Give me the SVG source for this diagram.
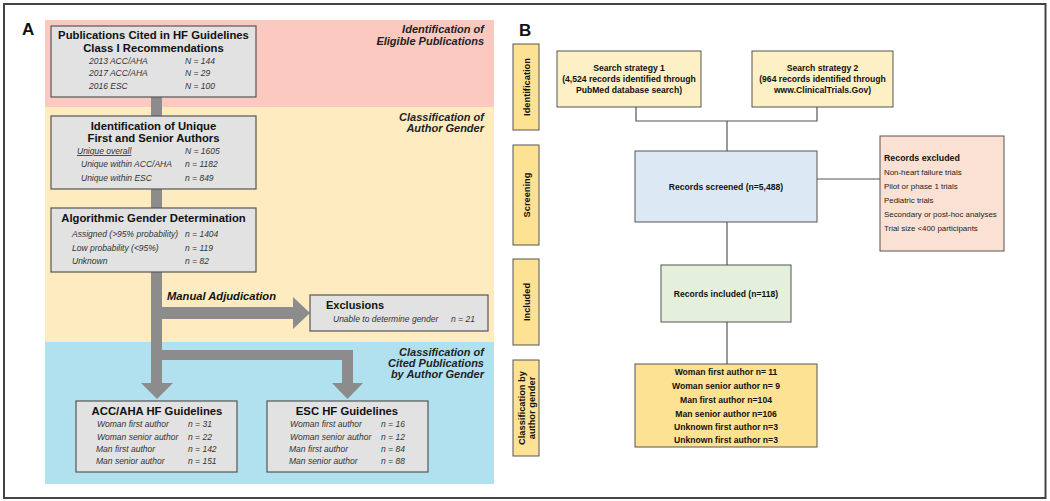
<svg xmlns="http://www.w3.org/2000/svg" width="1050" height="501" viewBox="0 0 1050 501">
<style>
text{font-family:"Liberation Sans",Arial,sans-serif;fill:#111}
.gbox{fill:#e2e2e2;stroke:#555;stroke-width:1.2}
.t{font-weight:bold;font-size:11.3px;text-anchor:middle}
.r{font-style:italic;font-size:8.5px;fill:#333}
.band{font-weight:bold;font-style:italic;font-size:11px;text-anchor:end;fill:#222}
.bar{fill:#8c8c8c}
.side{fill:#fde293;stroke:#555;stroke-width:1}
.sl{font-weight:bold;font-size:9.3px;text-anchor:middle}
.bb{stroke:#555;stroke-width:1}
.bt{font-weight:bold;font-size:8.6px;text-anchor:middle}
.ln{fill:none;stroke:#555;stroke-width:1.2}
.ex{font-size:7.9px;fill:#222}
</style>
<rect x="4" y="4" width="1041.5" height="494" fill="#fff" stroke="#444" stroke-width="2"/>
<!-- Panel A bands -->
<rect x="45" y="20" width="449" height="87" fill="#fcc9c0"/>
<rect x="45" y="107" width="449" height="235" fill="#feecc0"/>
<rect x="45" y="342" width="449" height="142" fill="#b1e1ef"/>
<text x="22" y="35" style="font-weight:bold;font-size:17px">A</text>
<text x="519" y="36" style="font-weight:bold;font-size:17px">B</text>
<text class="band" x="484" y="33">Identification of</text>
<text class="band" x="484" y="45">Eligible Publications</text>
<text class="band" x="484" y="121">Classification of</text>
<text class="band" x="484" y="132">Author Gender</text>
<text class="band" x="484" y="356">Classification of</text>
<text class="band" x="484" y="367">Cited Publications</text>
<text class="band" x="484" y="378">by Author Gender</text>
<!-- Panel A connectors -->
<g id="connectorsA">
<rect class="bar" x="151" y="97" width="11" height="19"/>
<rect class="bar" x="151" y="189" width="11" height="19"/>
<rect class="bar" x="151" y="272" width="11" height="112"/>
<rect class="bar" x="162" y="307" width="131" height="12"/>
<polygon class="bar" points="293,297 310,313 293,329"/>
<rect class="bar" x="162" y="350" width="191" height="10"/>
<rect class="bar" x="342" y="350" width="11" height="34"/>
<polygon class="bar" points="141,383 173,383 157,399"/>
<polygon class="bar" points="332,383 363,383 347.5,399"/>
</g>
<g id="pubs">
<rect class="gbox" x="51" y="26" width="205" height="71"/>
<text class="t" x="153.5" y="39">Publications Cited in HF Guidelines</text>
<text class="t" x="153.5" y="52">Class I Recommendations</text>
<text class="r" x="89" y="64">2013 ACC/AHA</text><text class="r" x="185" y="64">N = 144</text>
<text class="r" x="89" y="76">2017 ACC/AHA</text><text class="r" x="185" y="76">N = 29</text>
<text class="r" x="89" y="89">2016 ESC</text><text class="r" x="185" y="89">N = 100</text>
</g>
<g id="unique">
<rect class="gbox" x="51" y="116" width="205" height="73"/>
<text class="t" x="153.5" y="130">Identification of Unique</text>
<text class="t" x="153.5" y="142">First and Senior Authors</text>
<text class="r" x="77" y="154" text-decoration="underline">Unique overall</text><text class="r" x="185" y="154">N = 1605</text>
<text class="r" x="81" y="167">Unique within ACC/AHA</text><text class="r" x="185" y="167">n = 1182</text>
<text class="r" x="81" y="181">Unique within ESC</text><text class="r" x="185" y="181">n = 849</text>
</g>
<g id="algo">
<rect class="gbox" x="51" y="208" width="205" height="64"/>
<text class="t" x="153.5" y="222">Algorithmic Gender Determination</text>
<text class="r" x="72" y="237">Assigned (&gt;95% probability)</text><text class="r" x="185" y="237">n = 1404</text>
<text class="r" x="72" y="251">Low probability (&lt;95%)</text><text class="r" x="185" y="251">n = 119</text>
<text class="r" x="72" y="264">Unknown</text><text class="r" x="185" y="264">n = 82</text>
</g>
<text x="167" y="300" style="font-weight:bold;font-style:italic;font-size:11.2px">Manual Adjudication</text>
<g id="exclusions">
<rect class="gbox" x="310" y="295" width="178" height="36"/>
<text x="326" y="309" style="font-weight:bold;font-size:11px">Exclusions</text>
<text class="r" x="333" y="322">Unable to determine gender</text><text class="r" x="451" y="322">n = 21</text>
</g>
<g id="accaha">
<rect class="gbox" x="76" y="401" width="161" height="71"/>
<text class="t" x="157" y="415">ACC/AHA HF Guidelines</text>
<text class="r" x="97" y="427">Woman first author</text><text class="r" x="188" y="427">n = 31</text>
<text class="r" x="97" y="440">Woman senior author</text><text class="r" x="188" y="440">n = 22</text>
<text class="r" x="96" y="452">Man first author</text><text class="r" x="188" y="452">n = 142</text>
<text class="r" x="96" y="464">Man senior author</text><text class="r" x="188" y="464">n = 151</text>
</g>
<g id="esc">
<rect class="gbox" x="267" y="401" width="161" height="71"/>
<text class="t" x="347" y="415">ESC HF Guidelines</text>
<text class="r" x="290" y="427">Woman first author</text><text class="r" x="381" y="427">n = 16</text>
<text class="r" x="290" y="440">Woman senior author</text><text class="r" x="381" y="440">n = 12</text>
<text class="r" x="289" y="452">Man first author</text><text class="r" x="381" y="452">n = 84</text>
<text class="r" x="289" y="464">Man senior author</text><text class="r" x="381" y="464">n = 88</text>
</g>
<!-- Panel B side labels -->
<g id="side-identification">
<rect class="side" x="513" y="44" width="26" height="86"/>
<text class="sl" transform="translate(529.5,87) rotate(-90)">Identification</text>
</g>
<g id="side-screening">
<rect class="side" x="513" y="145" width="26" height="100"/>
<text class="sl" transform="translate(529.5,195) rotate(-90)">Screening</text>
</g>
<g id="side-included">
<rect class="side" x="513" y="259" width="26" height="86"/>
<text class="sl" transform="translate(529.5,302) rotate(-90)">Included</text>
</g>
<g id="side-classification">
<rect class="side" x="513" y="360" width="26" height="96"/>
<text class="sl" transform="translate(524.5,408) rotate(-90)">Classification by</text>
<text class="sl" transform="translate(535,408) rotate(-90)">author gender</text>
</g>
<!-- Panel B connectors -->
<g id="connectorsB">
<polyline class="ln" points="636,107 636,121 817,121 817,107"/>
<line class="ln" x1="727" y1="121" x2="727" y2="151"/>
<line class="ln" x1="817" y1="179" x2="880" y2="179"/>
<line class="ln" x1="727" y1="222" x2="727" y2="265"/>
<line class="ln" x1="727" y1="322" x2="727" y2="364"/>
</g>
<g id="search1">
<rect class="bb" fill="#fdf0c4" x="557" y="51" width="144" height="56"/>
<text class="bt" x="629" y="71">Search strategy 1</text>
<text class="bt" x="629" y="82">(4,524 records identified through</text>
<text class="bt" x="629" y="93">PubMed database search)</text>
</g>
<g id="search2">
<rect class="bb" fill="#fdf0c4" x="752" y="51" width="141" height="56"/>
<text class="bt" x="822.5" y="71">Search strategy 2</text>
<text class="bt" x="822.5" y="82">(964 records identified through</text>
<text class="bt" x="822.5" y="93">www.ClinicalTrials.Gov)</text>
</g>
<g id="screened">
<rect class="bb" fill="#dde8f5" x="635" y="151" width="182" height="71"/>
<text class="bt" x="726" y="190">Records screened (n=5,488)</text>
</g>
<g id="excluded">
<rect class="bb" fill="#fbe1d3" x="880" y="136" width="124" height="115"/>
<text x="884" y="161" style="font-weight:bold;font-size:8.8px">Records excluded</text>
<text class="ex" x="884" y="175">Non-heart failure trials</text>
<text class="ex" x="884" y="189">Pilot or phase 1 trials</text>
<text class="ex" x="884" y="203">Pediatric trials</text>
<text class="ex" x="884" y="217">Secondary or post-hoc analyses</text>
<text class="ex" x="884" y="231">Trial size &lt;400 participants</text>
</g>
<g id="included">
<rect class="bb" fill="#e5f0dc" x="661" y="265" width="130" height="57"/>
<text class="bt" x="726" y="297">Records included (n=118)</text>
</g>
<g id="classification">
<rect class="bb" fill="#fde293" x="635" y="364" width="182" height="83"/>
<text class="bt" x="726" y="375">Woman first author n= 11</text>
<text class="bt" x="726" y="389">Woman senior author n= 9</text>
<text class="bt" x="726" y="403">Man first author n=104</text>
<text class="bt" x="726" y="417">Man senior author n=106</text>
<text class="bt" x="726" y="430">Unknown first author n=3</text>
<text class="bt" x="726" y="443">Unknown first author n=3</text>
</g>
</svg>
